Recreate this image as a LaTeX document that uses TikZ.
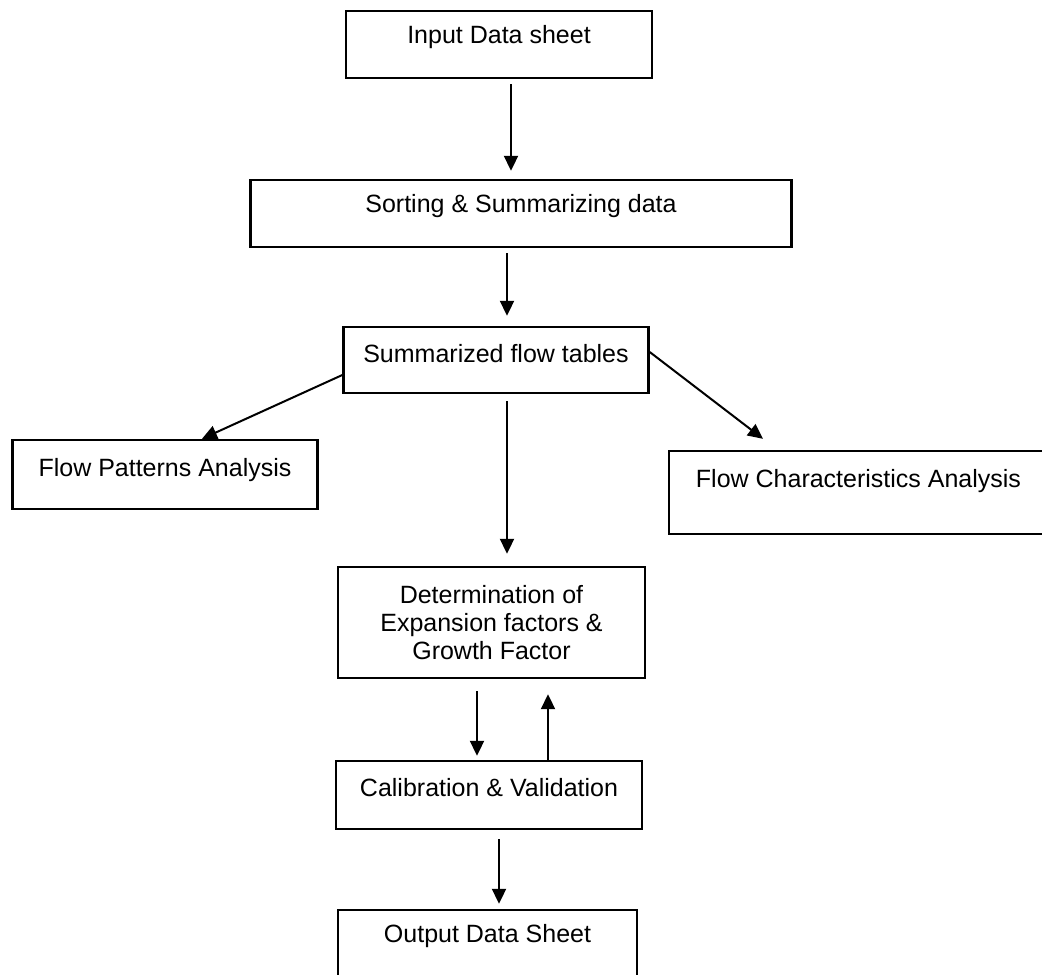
\documentclass[tikz,border=0pt]{standalone}
\usepackage{fontspec}
\setmainfont{Liberation Sans}
\usepackage{tikz}
\usetikzlibrary{arrows.meta}

\begin{document}
\begin{tikzpicture}[x=0.5pt,y=-0.5pt,>={Triangle[length=7.5pt,width=7pt]},line join=miter,
  box/.style={draw,line width=1.2pt,inner xsep=0pt,inner ysep=0pt,anchor=base,
    font=\fontsize{12.5}{13.8}\selectfont},
  flow/.style={->,line width=1pt}]
  \useasboundingbox (0,0) rectangle (1042,974);
  % boxes
  \node[box,minimum width=153pt,text height=16.5pt,text depth=17pt] (INP) at (499,44) {Input Data sheet};
  \node[box,minimum width=270.5pt,text height=16pt,text depth=17.5pt] (SORT) at (521,212) {Sorting \& Summarizing data};
  \node[box,minimum width=152.5pt,text height=17.5pt,text depth=15.5pt] (SUMT) at (496,362) {Summarized flow tables};
  \node[box,minimum width=152.5pt,text height=18pt,text depth=16.5pt] (FPA) at (165,476) {Flow Patterns Analysis};
  \node[box,minimum width=189.5pt,text height=18pt,text depth=23.5pt] (FCA) at (858.5,487) {Flow Characteristics Analysis};
  \node[box,anchor=center,minimum width=153.5pt,minimum height=55.5pt,align=center] (DET) at (491.5,622.5)
    {Determination of\\Expansion factors \&\\Growth Factor};
  \node[box,minimum width=153pt,text height=17.5pt,text depth=16.5pt] (CAL) at (489,796) {Calibration \& Validation};
  \node[box,minimum width=149.5pt,text height=16pt,text depth=40pt] (OUT) at (487.5,942) {Output Data Sheet};
  % arrows
  \draw[flow,shorten <=2.5pt,shorten >=4pt] ([xshift=6pt]INP.south) -- ([xshift=-5pt]SORT.north);
  \draw[flow,shorten <=2.5pt,shorten >=5pt] ([xshift=-7pt]SORT.south) -- ([xshift=5.5pt]SUMT.north);
  \draw[flow] ([yshift=-7.5pt]SUMT.west) -- ([xshift=18.5pt]FPA.north);
  \draw[flow] ([yshift=4pt]SUMT.east) -- ([xshift=-47.75pt,yshift=5.5pt]FCA.north);
  \draw[flow,shorten <=3.5pt,shorten >=6pt] ([xshift=5.5pt]SUMT.south) -- ([xshift=7.75pt]DET.north);
  \draw[flow,shorten <=6pt,shorten >=2pt] ([xshift=-7.25pt]DET.south) -- ([xshift=-6pt]CAL.north);
  \draw[flow,shorten >=7.5pt] ([xshift=29.5pt]CAL.north) -- ([xshift=28.25pt]DET.south);
  \draw[flow,shorten <=4.5pt,shorten >=2.5pt] ([xshift=5pt]CAL.south) -- ([xshift=5.75pt]OUT.north);
\end{tikzpicture}
\end{document}
